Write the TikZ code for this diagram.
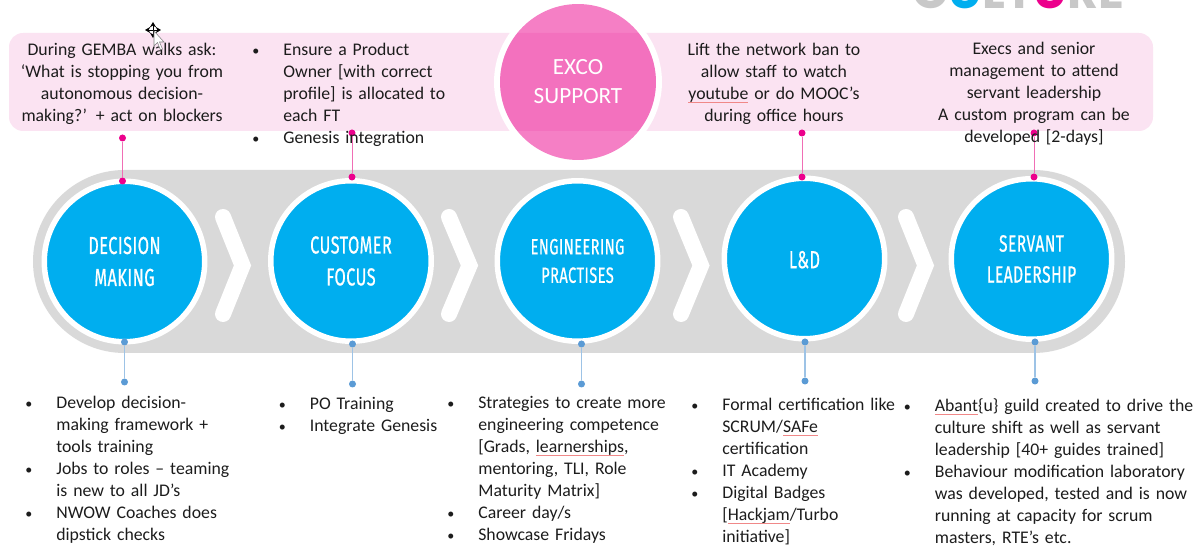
\documentclass[tikz,border=0pt]{standalone}
\usepackage{fontspec}
\setmainfont{Carlito}
\newfontfamily\headfont[FakeStretch=0.66,FakeBold=0.6,LetterSpace=2]{Fira Sans}
\newfontfamily\logofont{Poppins}[Scale=1]
\usetikzlibrary{arrows.meta}
\definecolor{bandpink}{HTML}{FBE3F2}
\definecolor{hotpink}{HTML}{EC008C}
\definecolor{pinkline}{HTML}{F06EB5}
\definecolor{trackgrey}{HTML}{D9D9D9}
\definecolor{skyblue}{HTML}{00AEEF}
\definecolor{dotblue}{HTML}{5B9BD5}
\definecolor{lineblue}{HTML}{9DC3E6}
\definecolor{logogrey}{HTML}{C8C8C8}
\definecolor{spellred}{HTML}{F08888}
\definecolor{bodyink}{HTML}{1C1C1C}
\newsavebox\spellbox
\newcommand{\spellerr}[1]{\leavevmode\sbox\spellbox{#1}\rlap{\textcolor{spellred}{\rule[-.17em]{\wd\spellbox}{.3pt}}}\usebox\spellbox}
\newcommand{\bul}{\par\leftskip=.62cm\noindent\llap{\hbox to .62cm{\raisebox{.4pt}{\fontsize{8}{8}\selectfont\textbullet}\hss}}\strut}
\tikzset{%
	every bodytext/.style={
		inner sep=0,
		text=bodyink,
		font=\fontsize{10.1}{12.52}\selectfont
	},
	centernote/.style={
		every bodytext,
		anchor=north,
		text width=4.6cm,
		align=center,
		execute at begin node=\strut
	},
	listnote/.style={
		every bodytext,
		anchor=north west,
		text width=#1,
		align=left
	},
	stagecircle/.style={
		circle,
		fill=skyblue,
		draw=white,
		line width=.11cm,
		minimum size=3.21cm,
		inner sep=0,
		align=center,
		text=white,
		font=\headfont\fontsize{14}{18.2}\selectfont,
		execute at begin node=\rule{0pt}{11.2pt}
	},
	excoring/.style={
		circle,
		draw=white,
		line width=.12cm,
		minimum size=3.24cm,
		inner sep=0
	},
	excocircle/.style={
		circle,
		fill=hotpink,
		fill opacity=.5,
		text opacity=1,
		minimum size=3.12cm,
		inner sep=0,
		align=center,
		text=white,
		font=\fontsize{13.2}{16.5}\selectfont,
		execute at begin node=\rule{0pt}{14pt}
	},
	chevron/.style={
		draw=white,
		line width=.32cm,
		line cap=round,
		miter limit=10
	},
	pinkdot/.style={circle, fill=hotpink, minimum size=.14cm, inner sep=0},
	bluedot/.style={circle, fill=dotblue, minimum size=.14cm, inner sep=0},
	pinkstem/.style={draw=pinkline, line width=.5pt},
	bluestem/.style={draw=lineblue, line width=.6pt},
	logoletter/.style={inner sep=0, anchor=base, font=\logofont\bfseries\fontsize{27.2}{30}\selectfont}
}
\begin{document}
\begin{tikzpicture}[x=.02cm, y=-.02cm]
	\clip[use as bounding box] (0,0) rectangle (1201,546);

	\node[logoletter, text=logogrey, anchor=base west] (logo) at (912,9) {C\textcolor{skyblue}{U}LT\textcolor{hotpink}{U}RE};

	\fill[bandpink, rounded corners=.28cm] (9,33) rectangle (1153,131);
	\node[excoring] (ring) at (578,82) {};
	\node[excocircle] (exco) at (578,82) {EXCO\\SUPPORT};

	\fill[trackgrey, rounded corners=1.83cm] (33,170) rectangle (1125,353);

	\coordinate (c1t) at (223,217);
	\coordinate (c1m) at (242.5,265.5);
	\coordinate (c1b) at (223,314);
	\coordinate (c2t) at (449,217);
	\coordinate (c2m) at (469.5,265.5);
	\coordinate (c2b) at (449,314);
	\coordinate (c3t) at (681,217);
	\coordinate (c3m) at (701,265.5);
	\coordinate (c3b) at (681,314);
	\coordinate (c4t) at (906,217);
	\coordinate (c4m) at (925.5,265.5);
	\coordinate (c4b) at (906,314);
	\draw[chevron] (c1t) -- (c1m) -- (c1b);
	\draw[chevron] (c2t) -- (c2m) -- (c2b);
	\draw[chevron] (c3t) -- (c3m) -- (c3b);
	\draw[chevron] (c4t) -- (c4m) -- (c4b);

	\node[stagecircle] (decision) at (124.5,261.5) {DECISION\\MAKING};
	\node[stagecircle] (customer) at (351,261) {CUSTOMER\\FOCUS};
	\node[stagecircle, font=\headfont\fontsize{12.6}{16.2}\selectfont] (engineering) at (577.5,261) {ENGINEERING\\PRACTISES};
	\node[stagecircle] (learning) at (804.5,258.5) {L\&D};
	\node[stagecircle, font=\headfont\fontsize{13.4}{17.6}\selectfont] (servant) at (1031.5,259) {SERVANT\\LEADERSHIP};

	\node[pinkdot] (pa1) at (122.5,138) {};
	\node[pinkdot] (pb1) at (122.5,181) {};
	\node[pinkdot] (pa2) at (352,133) {};
	\node[pinkdot] (pb2) at (352,177) {};
	\node[pinkdot] (pa3) at (802,133) {};
	\node[pinkdot] (pb3) at (802,177) {};
	\node[pinkdot] (pa4) at (1034,133) {};
	\node[pinkdot] (pb4) at (1034,177) {};
	\draw[pinkstem] (pa1) -- (pb1);
	\draw[pinkstem] (pa2) -- (pb2);
	\draw[pinkstem] (pa3) -- (pb3);
	\draw[pinkstem] (pa4) -- (pb4);

	\node[bluedot] (ba1) at (124.5,342) {};
	\node[bluedot] (bb1) at (124.5,382) {};
	\node[bluedot] (ba2) at (352.5,344) {};
	\node[bluedot] (bb2) at (352.5,384) {};
	\node[bluedot] (ba3) at (581.5,344) {};
	\node[bluedot] (bb3) at (581.5,384) {};
	\node[bluedot] (ba4) at (805,342) {};
	\node[bluedot] (bb4) at (805,381) {};
	\node[bluedot] (ba5) at (1035,342) {};
	\node[bluedot] (bb5) at (1035,381) {};
	\draw[bluestem] (ba1) -- (bb1);
	\draw[bluestem] (ba2) -- (bb2);
	\draw[bluestem] (ba3) -- (bb3);
	\draw[bluestem] (ba4) -- (bb4);
	\draw[bluestem] (ba5) -- (bb5);

	% notes above the track
	\node[centernote] (gemba) at (122,39.5) {During GEMBA walks ask:\\‘What is stopping you from\\autonomous decision-\\making?’ + act on blockers};
	\node[listnote=4.4cm] (owner) at (252,33.5) {\bul Ensure a Product\\Owner [with correct\\profile] is allocated to\\each FT\bul Genesis integration\par};
	\node[centernote] (network) at (774,39.5) {Lift the network ban to\\allow staff to watch\\\spellerr{youtube} or do MOOC’s\\during office hours};
	\node[centernote] (execs) at (1034,38.5) {Execs and senior\\management to attend\\servant leadership\\A custom program can be\\developed [2-days]};

	% notes below the track
	\node[listnote=4.4cm] (framework) at (25,386.5) {\bul Develop decision-\\making framework +\\tools training\bul Jobs to roles – teaming\\is new to all JD’s\bul NWOW Coaches does\\dipstick checks\par};
	\node[listnote=4.4cm] (training) at (278.5,387.5) {\bul PO Training\bul Integrate Genesis\par};
	\node[listnote=4.8cm] (strategies) at (447,386.5) {\bul Strategies to create more\\engineering competence\\{[}Grads, \spellerr{learnerships},\\mentoring, TLI, Role\\Maturity Matrix]\bul Career day/s\bul Showcase Fridays\par};
	\node[listnote=4.4cm] (formal) at (691,388.5) {\bul Formal certification like\\SCRUM/\spellerr{SAFe}\\certification\bul IT Academy\bul Digital Badges\\{[}\spellerr{Hackjam}/Turbo\\initiative]\par};
	\node[listnote=6cm] (guild) at (903.5,389.5) {\bul \spellerr{Abant}\{u\} guild created to drive the\\culture shift as well as servant\\leadership [40+ guides trained]\bul Behaviour modification laboratory\\was developed, tested and is now\\running at capacity for scrum\\masters, RTE’s etc.\par};

	% pointer over the first note
	\coordinate (ml) at (145,30);
	\coordinate (mr) at (161,30);
	\coordinate (mt) at (153,22);
	\coordinate (mb) at (153,38);
	\draw[{Stealth[length=3pt,width=3.5pt]}-{Stealth[length=3pt,width=3.5pt]}, line width=.5pt, black] (ml) -- (mr);
	\draw[{Stealth[length=3pt,width=3.5pt]}-{Stealth[length=3pt,width=3.5pt]}, line width=.5pt, black] (mt) -- (mb);
	\draw[fill=white, draw=gray, line width=.3pt] (154,31) -- (154,46) -- (157.5,42.5) -- (160.5,50) -- (162.5,49) -- (159.5,42) -- (164,42) -- cycle;
\end{tikzpicture}
\end{document}
